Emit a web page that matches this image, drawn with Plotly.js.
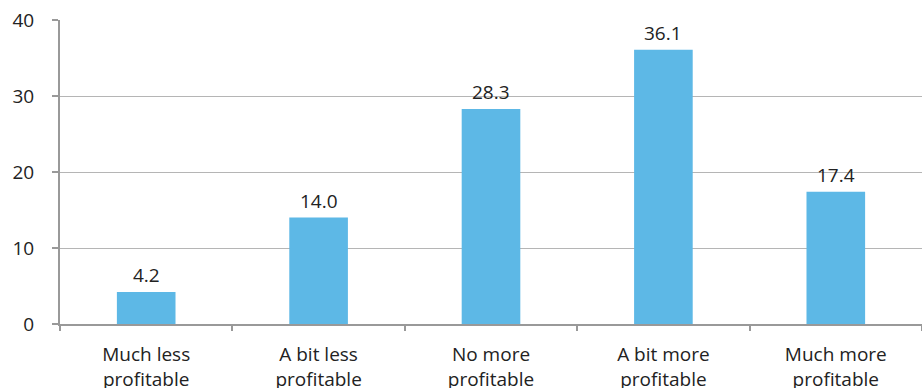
<!DOCTYPE html>
<html>
<head>
<meta charset="utf-8">
<script src="https://cdn.plot.ly/plotly-3.0.1.min.js"></script>
<style>html,body{margin:0;padding:0;background:#fff;}#chart{width:922px;height:388px;}</style>
</head>
<body>
<div id="chart"></div>
<script>
const categories = ["Much less<br>profitable", "A bit less<br>profitable", "No more<br>profitable", "A bit more<br>profitable", "Much more<br>profitable"];
const values = [4.2, 14.0, 28.3, 36.1, 17.4];
const valueLabels = ["4.2", "14.0", "28.3", "36.1", "17.4"];
const yTicks = [0, 10, 20, 30, 40];

const FONT = "Open Sans, Noto Sans, sans-serif";

const trace = {
  type: "bar",
  x: categories,
  y: values,
  marker: {color: "#5DB8E6"},
  hoverinfo: "none"
};

const annotations = categories.map((c, i) => ({
  x: c, y: values[i], xref: "x", yref: "y",
  text: valueLabels[i], showarrow: false,
  yanchor: "bottom", yshift: 2,
  font: {family: FONT, size: 19, color: "#222"}
}));

const layout = {
  width: 922, height: 388,
  margin: {l: 60, r: 0, t: 20, b: 64, pad: 0},
  paper_bgcolor: "#fff", plot_bgcolor: "#fff",
  bargap: 0.66,
  showlegend: false,
  font: {family: FONT, size: 19, color: "#222"},
  xaxis: {
    type: "category",
    showgrid: false,
    showline: true, linecolor: "#999", linewidth: 2,
    ticks: "outside", tickson: "boundaries", ticklen: 5, tickwidth: 2, tickcolor: "#999",
    ticklabelstandoff: 12,
    tickfont: {family: FONT, size: 19, color: "#222"},
    fixedrange: true
  },
  yaxis: {
    range: [0, 40],
    tickvals: yTicks,
    showgrid: true, gridcolor: "#b5b5b5", gridwidth: 1,
    zeroline: false,
    showline: true, linecolor: "#999", linewidth: 2,
    ticks: "outside", ticklen: 6, tickwidth: 2, tickcolor: "#999",
    ticklabelstandoff: 14,
    tickfont: {family: FONT, size: 19, color: "#222"},
    fixedrange: true
  },
  annotations: annotations
};

Plotly.newPlot("chart", [trace], layout, {displayModeBar: false, staticPlot: true});
</script>
</body>
</html>
